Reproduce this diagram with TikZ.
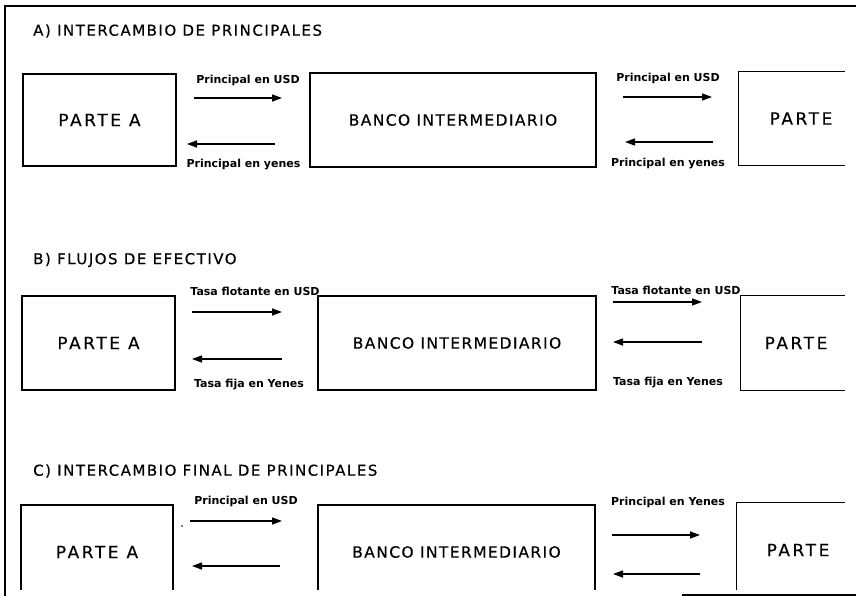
\documentclass[tikz,border=0pt]{standalone}
\usepackage{fontspec}
\setmainfont{DejaVu Sans}
\newfontfamily\ttlfamily{DejaVu Sans}[LetterSpace=10.0, FakeBold=0.4]
\newfontfamily\partyfamily{DejaVu Sans}[LetterSpace=15.0, FakeBold=0.4]
\newfontfamily\bankfamily{DejaVu Sans}[LetterSpace=9.0, FakeBold=0.4]
\newfontfamily\labfamily{DejaVu Sans}
\usetikzlibrary{arrows.meta}

\newcommand\ttlfont{\ttlfamily\fontsize{15}{17}\selectfont}
\newcommand\partyfont{\partyfamily\fontsize{17}{19}\selectfont}
\newcommand\bankfont{\bankfamily\fontsize{15.5}{17}\selectfont}
\newcommand\labfont{\labfamily\bfseries\fontsize{11}{13}\selectfont}

\tikzset{
  box/.style={draw, rectangle, line width=1.2pt, inner sep=0pt},
  openbox/.style={rectangle, inner sep=0pt},
  party/.style={font=\partyfont},
  bank/.style={font=\bankfont},
  sides/.style={line width=1.2pt},
  flow/.style={line width=1.3pt, -{Triangle[length=10pt,width=7pt]}},
  lab/.style={font=\labfont, inner sep=0pt},
  ttl/.style={font=\ttlfont, anchor=west, inner sep=0pt},
  frame/.style={line width=1.8pt},
}

\begin{document}
\begin{tikzpicture}[x=1pt,y=-1pt]
\useasboundingbox (0,0) rectangle (856,596);

% outer frame (only the visible edges)
\draw[frame] (856,6) -- (5,6) -- (5,596);
\draw[line width=1.2pt] (682,595) -- (856,595);

% ---------------- A) ----------------
\node[ttl] (tA) at (33,31) {A) INTERCAMBIO DE PRINCIPALES};

\node[box, party, minimum width=153pt, minimum height=92pt] (paA) at (99.5,120) {PARTE A};
\node[box, bank, minimum width=286pt, minimum height=94pt] (bkA) at (453,120) {BANCO INTERMEDIARIO};
\node[openbox, party, minimum width=124pt, minimum height=93pt] (pbA) at (801,118.5) {PARTE};
\draw[sides] ([xshift=106pt]pbA.north west) -- (pbA.north west) -- (pbA.south west) -- ([xshift=106pt]pbA.south west);

\coordinate (A1s) at (194,98);  \coordinate (A1e) at (282,98);
\coordinate (A2s) at (275,144); \coordinate (A2e) at (187,144);
\coordinate (A3s) at (623,97);  \coordinate (A3e) at (712,97);
\coordinate (A4s) at (713,142); \coordinate (A4e) at (625,142);
\draw[flow] (A1s) -- (A1e);
\draw[flow] (A2s) -- (A2e);
\draw[flow] (A3s) -- (A3e);
\draw[flow] (A4s) -- (A4e);
\node[lab] (lA1) at (248,80) {Principal en USD};
\node[lab] (lA2) at (243.5,165) {Principal en yenes};
\node[lab] (lA3) at (668,78) {Principal en USD};
\node[lab] (lA4) at (668,164) {Principal en yenes};

% ---------------- B) ----------------
\node[ttl] (tB) at (33,260) {B) FLUJOS DE EFECTIVO};

\node[box, party, minimum width=153pt, minimum height=94pt] (paB) at (98.5,343) {PARTE A};
\node[box, bank, minimum width=278pt, minimum height=94pt] (bkB) at (457,343) {BANCO INTERMEDIARIO};
\node[openbox, party, minimum width=110pt, minimum height=94pt] (pbB) at (796,343) {PARTE};
\draw[sides] ([xshift=104pt]pbB.north west) -- (pbB.north west) -- (pbB.south west) -- ([xshift=104pt]pbB.south west);

\coordinate (B1s) at (192,312); \coordinate (B1e) at (282,312);
\coordinate (B2s) at (282,359); \coordinate (B2e) at (192,359);
\coordinate (B3s) at (613,302); \coordinate (B3e) at (702,302);
\coordinate (B4s) at (702,342); \coordinate (B4e) at (613,342);
\draw[flow] (B1s) -- (B1e);
\draw[flow] (B2s) -- (B2e);
\draw[flow] (B3s) -- (B3e);
\draw[flow] (B4s) -- (B4e);
\node[lab] (lB1) at (255,291) {Tasa flotante en USD};
\node[lab] (lB2) at (249,385) {Tasa fija en Yenes};
\node[lab] (lB3) at (676,290) {Tasa flotante en USD};
\node[lab] (lB4) at (668,383) {Tasa fija en Yenes};

% ---------------- C) ----------------
\node[ttl] (tC) at (33,471) {C) INTERCAMBIO FINAL DE PRINCIPALES};

\begin{scope}
  \clip (0,0) rectangle (856,589);
  \node[box, party, minimum width=152pt, minimum height=94pt] (paC) at (97,552) {PARTE A};
  \node[box, bank, minimum width=277pt, minimum height=94pt] (bkC) at (456.5,552) {BANCO INTERMEDIARIO};
  \node[openbox, party, minimum width=122pt, minimum height=94pt] (pbC) at (798,550) {PARTE};
  \draw[sides] ([xshift=108pt]pbC.north west) -- (pbC.north west) -- (pbC.south west);
\end{scope}

\coordinate (C1s) at (190,521); \coordinate (C1e) at (282,521);
\coordinate (C2s) at (280,566); \coordinate (C2e) at (192,566);
\coordinate (C3s) at (612,535); \coordinate (C3e) at (700,535);
\coordinate (C4s) at (700,574); \coordinate (C4e) at (613,574);
\draw[flow] (C1s) -- (C1e);
\draw[flow] (C2s) -- (C2e);
\draw[flow] (C3s) -- (C3e);
\draw[flow] (C4s) -- (C4e);
\fill (182,526) circle (0.9pt);
\node[lab] (lC1) at (246,501) {Principal en USD};
\node[lab] (lC3) at (668,502) {Principal en Yenes};
\end{tikzpicture}
\end{document}
